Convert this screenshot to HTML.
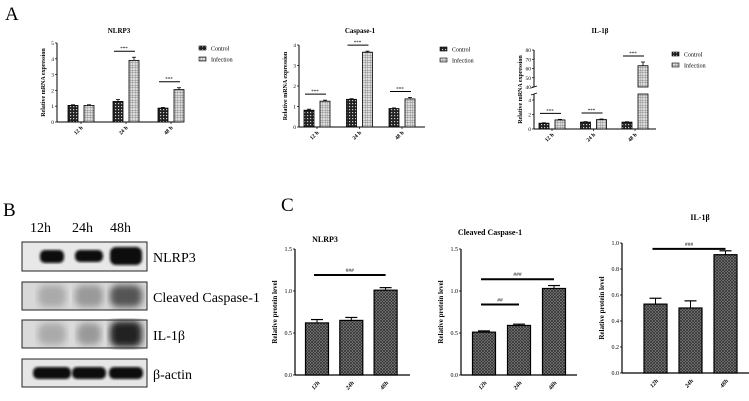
<!DOCTYPE html>
<html><head><meta charset="utf-8"><style>
body{margin:0;background:#fff;}
svg{display:block;font-family:"Liberation Serif",serif;}
</style></head><body>
<svg id="fig" width="749" height="401" viewBox="0 0 749 401">
<defs>
<pattern id="ctrlPat" width="3" height="3" patternUnits="userSpaceOnUse"><rect width="3" height="3" fill="#222"/><rect x="1" y="1" width="1.2" height="1.2" fill="#ccc"/></pattern>
<pattern id="infPat" width="2.5" height="2.5" patternUnits="userSpaceOnUse"><rect width="2.5" height="2.5" fill="#ddd"/><path d="M0 0H2.5M0 0V2.5" stroke="#777" stroke-width="0.7"/></pattern>
<pattern id="cPat" width="3" height="3" patternUnits="userSpaceOnUse"><rect width="3" height="3" fill="#888"/><path d="M0 0L3 3M3 0L0 3" stroke="#333" stroke-width="0.8"/></pattern>
<filter id="blur2"><feGaussianBlur stdDeviation="3.5"/></filter>
<filter id="blur1"><feGaussianBlur stdDeviation="1.2"/></filter>
</defs>
<text x="5" y="20" font-size="19">A</text>
<text x="3" y="216" font-size="19">B</text>
<text x="281" y="211" font-size="19">C</text>

<!-- Panel B western blot -->
<g>
<text x="30" y="232" font-size="14">12h</text>
<text x="72" y="232" font-size="14">24h</text>
<text x="110" y="232" font-size="14">48h</text>
<g>
<rect x="22" y="242" width="125" height="29" fill="#e8e8e8" stroke="#222"/>
<rect x="40" y="250" width="24" height="13" rx="5" fill="#111" filter="url(#blur1)"/>
<rect x="75" y="250" width="28" height="12" rx="5" fill="#111" filter="url(#blur1)"/>
<rect x="110" y="247" width="32" height="18" rx="6" fill="#0a0a0a" filter="url(#blur1)"/>
</g>
<g>
<rect x="22" y="282" width="125" height="28" fill="#d8d8d8" stroke="#222"/>
<rect x="38" y="285" width="28" height="22" rx="8" fill="#aaa" filter="url(#blur2)"/>
<rect x="75" y="285" width="28" height="22" rx="8" fill="#999" filter="url(#blur2)"/>
<rect x="110" y="285" width="32" height="22" rx="8" fill="#555" filter="url(#blur2)"/>
</g>
<g>
<rect x="22" y="320" width="125" height="28" fill="#dadada" stroke="#222"/>
<rect x="38" y="323" width="28" height="22" rx="8" fill="#aaa" filter="url(#blur2)"/>
<rect x="77" y="323" width="24" height="22" rx="8" fill="#999" filter="url(#blur2)"/>
<rect x="110" y="321" width="32" height="26" rx="8" fill="#222" filter="url(#blur2)"/>
</g>
<g>
<rect x="22" y="359" width="125" height="28" fill="#e6e6e6" stroke="#222"/>
<rect x="33" y="367" width="38" height="12" rx="5" fill="#111" filter="url(#blur1)"/>
<rect x="72" y="367" width="34" height="12" rx="5" fill="#111" filter="url(#blur1)"/>
<rect x="109" y="367" width="34" height="12" rx="5" fill="#111" filter="url(#blur1)"/>
</g>
<text x="153" y="262" font-size="14">NLRP3</text>
<text x="153" y="302" font-size="14">Cleaved Caspase-1</text>
<text x="153" y="340" font-size="14">IL-1β</text>
<text x="153" y="379" font-size="14">β-actin</text>
</g>
</svg>
<script>
// Panel A data
const timeLabelsA = ["12 h","24 h","48 h"];
const nlrp3Control = [1.05, 1.3, 0.88];
const nlrp3Infection = [1.05, 3.9, 2.05];
const nlrp3CtrlErr = [0.04, 0.12, 0.04];
const nlrp3InfErr = [0.04, 0.2, 0.12];
const nlrp3Ticks = [0,1,2,3,4,5];
const casp1Control = [0.82, 1.35, 0.9];
const casp1Infection = [1.26, 3.65, 1.37];
const casp1CtrlErr = [0.05, 0.03, 0.03];
const casp1InfErr = [0.05, 0.05, 0.07];
const casp1Ticks = [0,1,2,3,4];
const il1bControl = [0.8, 0.95, 0.95];
const il1bInfection = [1.25, 1.3, 63];
const il1bCtrlErr = [0.06, 0.06, 0.05];
const il1bInfErr = [0.08, 0.08, 4];
const il1bTicksLow = [0,2,4];
const il1bTicksHigh = [40,50,60,70,80];
// Panel C data
const timeLabelsC = ["12h","24h","48h"];
const cNlrp3 = [0.62, 0.65, 1.01];
const cNlrp3Err = [0.04, 0.035, 0.03];
const cCasp = [0.51, 0.59, 1.03];
const cCaspErr = [0.015, 0.015, 0.035];
const cIl1b = [0.53, 0.50, 0.91];
const cIl1bErr = [0.045, 0.055, 0.03];
const cTicks15 = [0.0,0.5,1.0,1.5];
const cTicks10 = [0.0,0.2,0.4,0.6,0.8,1.0];

const NS="http://www.w3.org/2000/svg";
const svg=document.getElementById('fig');
function mk(tag,attrs,parent){const e=document.createElementNS(NS,tag);for(const k in attrs)e.setAttribute(k,attrs[k]);(parent||svg).appendChild(e);return e;}
function txt(x,y,s,size,parent,extra){const t=mk('text',Object.assign({x:x,y:y,'font-size':size},extra||{}),parent);t.textContent=s;return t;}

function chartA(cfg){
  const g=mk('g',{});
  
  
  const y=cfg.yScale;
  if(cfg.broken){
    mk('line',{x1:cfg.x0,y1:cfg.yb,x2:cfg.x0,y2:cfg.brLow,stroke:'#000','stroke-width':1},g);
    mk('line',{x1:cfg.x0,y1:cfg.brHigh,x2:cfg.x0,y2:cfg.yt,stroke:'#000','stroke-width':1},g);
    mk('line',{x1:cfg.x0-3,y1:cfg.brLow+1,x2:cfg.x0+3,y2:cfg.brLow-1,stroke:'#000','stroke-width':0.8},g);
    mk('line',{x1:cfg.x0-3,y1:cfg.brHigh+1,x2:cfg.x0+3,y2:cfg.brHigh-1,stroke:'#000','stroke-width':0.8},g);
  } else mk('line',{x1:cfg.x0,y1:cfg.yb,x2:cfg.x0,y2:cfg.yt,stroke:'#000','stroke-width':1},g);
  mk('line',{x1:cfg.x0,y1:cfg.yb,x2:cfg.x1,y2:cfg.yb,stroke:'#000','stroke-width':1},g);
  cfg.ticks.forEach(v=>{const yy=y(v);mk('line',{x1:cfg.x0-2,y1:yy,x2:cfg.x0,y2:yy,stroke:'#000','stroke-width':0.7},g);
    const t=txt(cfg.x0-3,yy+2,String(v),5.5,g,{'text-anchor':'end'});
    });
  const yt=txt(0,0,'Relative mRNA expression',6,g,{'font-weight':'bold','text-anchor':'middle',transform:`translate(${cfg.x0-12},${(cfg.yb+cfg.yt)/2}) rotate(-90)`});
  
  const tt=txt(cfg.titleX,33,cfg.title,7,g,{'font-weight':'bold','text-anchor':'middle'});
  
  const w=10;
  cfg.labels.forEach((lab,i)=>{
    const c=cfg.x0+cfg.off+i*cfg.step;
    [[cfg.ctrl,cfg.ctrlErr,'url(#ctrlPat)',-8,'control'],[cfg.inf,cfg.infErr,'url(#infPat)',8,'infection']].forEach(s=>{
      const v=s[0][i],e=s[1][i],cx=c+s[3];
      const top=y(v),ye=y(v+e);
      if(cfg.broken && v>cfg.brVal){
        const r1=mk('rect',{x:cx-w/2,y:cfg.brLow,width:w,height:cfg.yb-cfg.brLow,fill:s[2],stroke:'#000','stroke-width':0.8},g);
        
        const r2=mk('rect',{x:cx-w/2,y:top,width:w,height:cfg.brHigh-top,fill:s[2],stroke:'#000','stroke-width':0.8},g);
        
      } else {
        const r=mk('rect',{x:cx-w/2,y:top,width:w,height:cfg.yb-top,fill:s[2],stroke:'#000','stroke-width':0.8},g);
        
      }
      mk('line',{x1:cx,y1:top,x2:cx,y2:ye,stroke:'#000','stroke-width':0.8},g);
      mk('line',{x1:cx-2,y1:ye,x2:cx+2,y2:ye,stroke:'#000','stroke-width':0.8},g);
    });
    if(cfg.sig[i]){
      const hi=Math.max(cfg.ctrl[i]+cfg.ctrlErr[i],cfg.inf[i]+cfg.infErr[i]);
      const ly=y(hi)-6;
      mk('line',{x1:c-12,y1:ly,x2:c+9,y2:ly,stroke:'#000','stroke-width':1},g);
      const st=txt(c-2,ly-1,'***',5,g,{'text-anchor':'middle'});
      
    }
    mk('line',{x1:c,y1:cfg.yb,x2:c,y2:cfg.yb+2,stroke:'#000','stroke-width':0.7},g);
    const xl=txt(0,0,lab,5.5,g,{'text-anchor':'end','font-weight':'bold',transform:`translate(${c+2},${cfg.yb+6}) rotate(-45)`});
    
  });
  const lg=mk('g',{},g);
  
  mk('rect',{x:cfg.legX,y:cfg.legY-3,width:7,height:4,fill:'url(#ctrlPat)',stroke:'#000','stroke-width':0.6},lg);
  txt(cfg.legX+12,cfg.legY+1.5,'Control',6,lg);
  mk('rect',{x:cfg.legX,y:cfg.legY+8,width:7,height:4,fill:'url(#infPat)',stroke:'#000','stroke-width':0.6},lg);
  txt(cfg.legX+12,cfg.legY+12.5,'Infection',6,lg);
}

function lin(v0,v1,p0,p1){return v=>p0+(v-v0)/(v1-v0)*(p1-p0);}

chartA({name:'chart-a-nlrp3',title:'NLRP3',titleX:119,x0:57,x1:181,yt:43,yb:122,yScale:lin(0,5,122,43),ticks:nlrp3Ticks,
  off:24,step:45,labels:timeLabelsA,ctrl:nlrp3Control,inf:nlrp3Infection,ctrlErr:nlrp3CtrlErr,infErr:nlrp3InfErr,sig:[false,true,true],legX:199,legY:49});
chartA({name:'chart-a-caspase1',title:'Caspase-1',titleX:360,x0:299,x1:425,yt:45,yb:127,yScale:lin(0,4,127,45),ticks:casp1Ticks,
  off:18,step:42.5,labels:timeLabelsA,ctrl:casp1Control,inf:casp1Infection,ctrlErr:casp1CtrlErr,infErr:casp1InfErr,sig:[true,true,true],legX:440,legY:50});
const il1bLow=lin(0,4,129,100), il1bHigh=lin(40,80,87,50);
chartA({name:'chart-a-il1b',title:'IL-1β',titleX:600,x0:534,x1:656,yt:50,yb:129,broken:true,brLow:94,brHigh:87,brVal:10,
  yScale:v=>v<=10?il1bLow(v):il1bHigh(v),ticks:il1bTicksLow.concat(il1bTicksHigh),
  off:18,step:41.5,labels:timeLabelsA,ctrl:il1bControl,inf:il1bInfection,ctrlErr:il1bCtrlErr,infErr:il1bInfErr,sig:[true,true,true],legX:672,legY:55});

function chartC(cfg){
  const g=mk('g',{});
  
  
  const y=lin(0,cfg.max,cfg.yb,cfg.yt);
  mk('line',{x1:cfg.x0,y1:cfg.yb,x2:cfg.x0,y2:cfg.yt,stroke:'#000','stroke-width':1.2},g);
  mk('line',{x1:cfg.x0,y1:cfg.yb,x2:cfg.x1,y2:cfg.yb,stroke:'#000','stroke-width':1.2},g);
  cfg.ticks.forEach(v=>{const yy=y(v);mk('line',{x1:cfg.x0-2,y1:yy,x2:cfg.x0,y2:yy,stroke:'#000','stroke-width':0.8},g);
    const t=txt(cfg.x0-3,yy+2,v.toFixed(1),6,g,{'text-anchor':'end'});
    });
  const yt=txt(0,0,'Relative protein level',7,g,{'font-weight':'bold','text-anchor':'middle',transform:`translate(${cfg.x0-18},${(cfg.yb+cfg.yt)/2}) rotate(-90)`});
  
  const tt=txt(cfg.titleX,cfg.titleY,cfg.title,8,g,{'font-weight':'bold','text-anchor':'middle'});
  
  const w=23;
  cfg.labels.forEach((lab,i)=>{
    const c=cfg.x0+cfg.off+i*cfg.step, v=cfg.vals[i], e=cfg.errs[i];
    const top=y(v),ye=y(v+e);
    mk('line',{x1:c,y1:top,x2:c,y2:ye,stroke:'#000','stroke-width':1},g);
    mk('line',{x1:c-6,y1:ye,x2:c+6,y2:ye,stroke:'#000','stroke-width':1.2},g);
    const r=mk('rect',{x:c-w/2,y:top,width:w,height:cfg.yb-top,fill:'url(#cPat)',stroke:'#000','stroke-width':1.2},g);
    
    const xl=txt(0,0,lab,6,g,{'text-anchor':'end','font-weight':'bold','font-style':'italic',transform:`translate(${c+3},${cfg.yb+8}) rotate(-50)`});
    
  });
  cfg.sigs.forEach(s=>{
    const x1=cfg.x0+cfg.off+s.a*cfg.step-3, x2=cfg.x0+cfg.off+s.b*cfg.step;
    const ly=y(s.v);
    mk('line',{x1:x1,y1:ly,x2:x2,y2:ly,stroke:'#000','stroke-width':2},g);
    const st=txt((x1+x2)/2,ly-3,s.t,5.5,g,{'text-anchor':'middle'});
    
  });
}
chartC({name:'chart-c-nlrp3',title:'NLRP3',titleX:325,titleY:242,x0:295,x1:410,yt:249,yb:375,max:1.5,ticks:cTicks15,
  off:22,step:34.3,labels:timeLabelsC,vals:cNlrp3,errs:cNlrp3Err,sigs:[{a:0,b:2,v:1.19,t:'###'}]});
chartC({name:'chart-c-cleaved-caspase1',title:'Cleaved Caspase-1',titleX:490,titleY:235,x0:461,x1:577,yt:249,yb:375,max:1.5,ticks:cTicks15,
  off:23,step:35,labels:timeLabelsC,vals:cCasp,errs:cCaspErr,sigs:[{a:0,b:2,v:1.14,t:'###'},{a:0,b:1,v:0.84,t:'##'}]});
chartC({name:'chart-c-il1b',title:'IL-1β',titleX:700,titleY:220,x0:622,x1:749,yt:243,yb:373,max:1.0,ticks:cTicks10,
  off:33.5,step:35,labels:timeLabelsC,vals:cIl1b,errs:cIl1bErr,sigs:[{a:0,b:2,v:0.955,t:'###'}]});
</script>
</body></html>
